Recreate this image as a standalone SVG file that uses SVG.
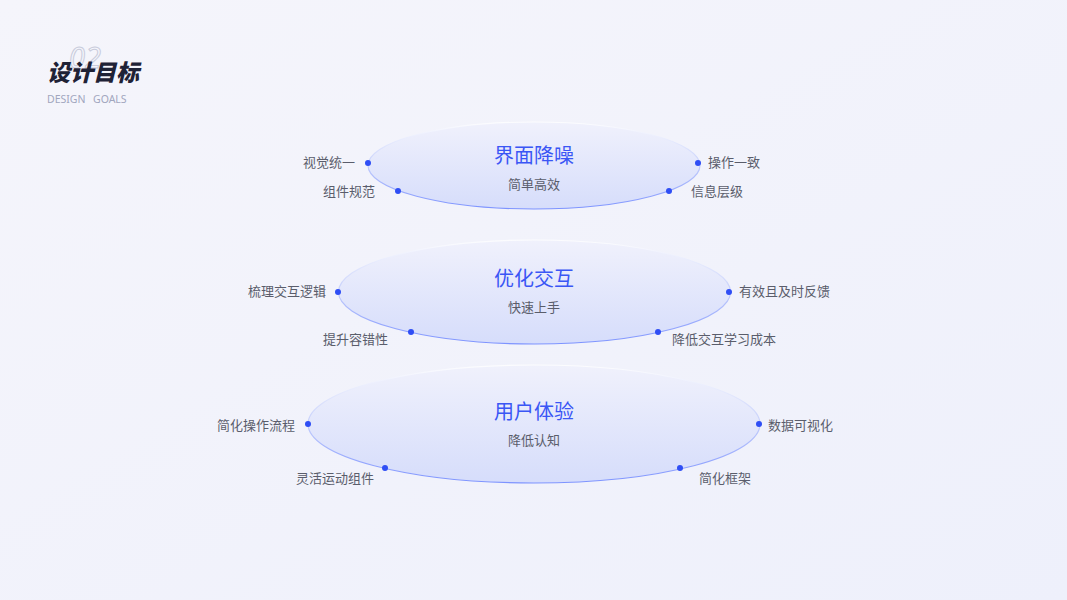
<svg xmlns="http://www.w3.org/2000/svg" width="1067" height="600" viewBox="0 0 1067 600">
<defs>
<linearGradient id="bg" x1="0" y1="0" x2="1" y2="1">
<stop offset="0" stop-color="#f5f5fb"/>
<stop offset="1" stop-color="#eef0fb"/>
</linearGradient>
<linearGradient id="ef" x1="0" y1="0" x2="0" y2="1">
<stop offset="0" stop-color="#f0f1fc"/>
<stop offset="1" stop-color="#d6ddfb"/>
</linearGradient>
<linearGradient id="es" x1="0" y1="0" x2="0" y2="1">
<stop offset="0" stop-color="#ffffff" stop-opacity="0.8"/>
<stop offset="0.5" stop-color="#c3cdfb"/>
<stop offset="1" stop-color="#7d93ff"/>
</linearGradient>
<style>
.el{fill:url(#ef);stroke:url(#es);stroke-width:1.2}
.dot{fill:#2f4ef5}
.t{font-family:"Noto Sans CJK SC","Noto Sans",sans-serif;fill:#3a56f5;font-size:20px;text-anchor:middle}
.s{font-family:"Noto Sans CJK SC","Noto Sans",sans-serif;fill:#5a5d6b;font-size:13px;text-anchor:middle}
.l{font-family:"Noto Sans CJK SC","Noto Sans",sans-serif;fill:#5a5d6b;font-size:13px}
.r{text-anchor:end}
.en{font-family:"Noto Sans",sans-serif;font-size:10.5px;fill:#a1a6be}
</style>
</defs>
<rect width="1067" height="600" fill="url(#bg)"/>
<g id="header">
<text x="69" y="68" font-family="Noto Sans,sans-serif" font-size="29" font-style="italic" fill="none" stroke="#c9ccdc" stroke-width="1">02</text>
<text x="47" y="81" font-family="Noto Sans CJK SC,sans-serif" font-size="23" font-weight="900" font-style="italic" fill="#1f2236">设计目标</text>
<text class="en" x="47" y="103">DESIGN</text>
<text class="en" x="93" y="103">GOALS</text>
</g>
<g id="node1">
<ellipse class="el" cx="534" cy="165.5" rx="166" ry="43.5"/>
<text class="t" x="534" y="163">界面降噪</text>
<text class="s" x="534" y="189">简单高效</text>
<circle class="dot" cx="368" cy="163" r="3"/>
<circle class="dot" cx="398" cy="191" r="3"/>
<circle class="dot" cx="698" cy="163" r="3"/>
<circle class="dot" cx="669" cy="191" r="3"/>
<text class="l r" x="355" y="167">视觉统一</text>
<text class="l r" x="375" y="196">组件规范</text>
<text class="l" x="708" y="167">操作一致</text>
<text class="l" x="691" y="196">信息层级</text>
</g>
<g id="node2">
<ellipse class="el" cx="534.5" cy="292" rx="196" ry="52"/>
<text class="t" x="534" y="286">优化交互</text>
<text class="s" x="534" y="312">快速上手</text>
<circle class="dot" cx="338" cy="292" r="3"/>
<circle class="dot" cx="411" cy="332" r="3"/>
<circle class="dot" cx="729" cy="292" r="3"/>
<circle class="dot" cx="658" cy="332" r="3"/>
<text class="l r" x="326" y="296">梳理交互逻辑</text>
<text class="l r" x="388" y="344">提升容错性</text>
<text class="l" x="739" y="296">有效且及时反馈</text>
<text class="l" x="672" y="344">降低交互学习成本</text>
</g>
<g id="node3">
<ellipse class="el" cx="534" cy="424" rx="226" ry="59"/>
<text class="t" x="534" y="419">用户体验</text>
<text class="s" x="534" y="445">降低认知</text>
<circle class="dot" cx="308" cy="424" r="3"/>
<circle class="dot" cx="385" cy="468" r="3"/>
<circle class="dot" cx="759" cy="424" r="3"/>
<circle class="dot" cx="680" cy="468" r="3"/>
<text class="l r" x="295" y="430">简化操作流程</text>
<text class="l r" x="374" y="483">灵活运动组件</text>
<text class="l" x="768" y="430">数据可视化</text>
<text class="l" x="699" y="483">简化框架</text>
</g>
<g id="connectors"></g>
</svg>
